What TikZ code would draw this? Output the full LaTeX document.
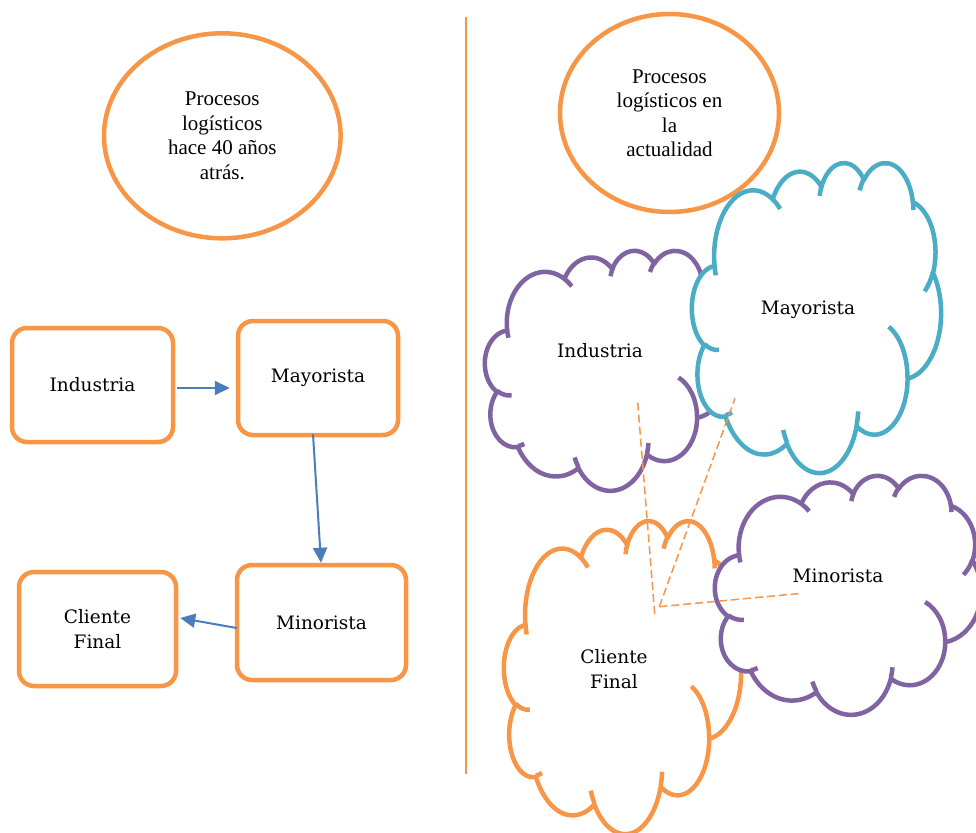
\documentclass[tikz,border=0pt]{standalone}
\usepackage{fontspec}
\setmainfont{DejaVu Serif}
\newfontfamily\timesf{Liberation Serif}
\usetikzlibrary{arrows.meta,shapes.geometric}
\definecolor{orng}{HTML}{F79646}
\definecolor{purp}{HTML}{8064A2}
\definecolor{tealc}{HTML}{4BACC6}
\definecolor{arrblue}{HTML}{4A7EBB}
% OOXML-style arc: visual start angle / sweep converted to parametric angles
\newcommand\oa[4]{arc[x radius=#1, y radius=#2, start angle={vt(#3,#1,#2)}, delta angle={dd(#3,#4,#1,#2)}]}
\newcommand\msocloud[5]{%
 \begin{scope}[shift={(#1,#2)}, x=#3pt, y=-#4pt]
  \filldraw[cloudline, draw=#5, fill=white] (3.9,14.37)
   \oa{6.753}{9.19}{-190.4875}{123.7805}
   \oa{5.333}{7.267}{-144.1024}{89.9452}
   \oa{4.365}{5.945}{-145.8079}{99.7230}
   \oa{4.857}{6.595}{-130.9861}{117.2417}
   \oa{5.333}{7.273}{-78.7089}{109.0269}
   \oa{6.775}{9.22}{-46.2673}{130.2690}
   \oa{5.785}{7.867}{0.6250}{114.0333}
   \oa{6.752}{9.215}{22.4516}{115.1726}
   \oa{7.72}{10.543}{66.2426}{75.7110}
   \oa{4.36}{5.918}{-274.9421}{146.7356}
   \oa{4.345}{5.945}{-246.8285}{152.5189}
   -- cycle;
  \draw[cloudline, draw=#5]
   (4.693,26.177) \oa{4.345}{5.945}{86.7420}{26.4295}
   (6.928,34.899) \oa{4.36}{5.918}{73.6105}{11.4475}
   (16.478,39.09) \oa{6.752}{9.215}{137.6242}{14.0811}
   (28.827,34.751) \oa{6.752}{9.215}{6.4533}{15.9984}
   (34.129,22.954) \oa{5.785}{7.867}{-70.2924}{70.9174}
   (41.798,15.354) \oa{5.333}{7.273}{30.3180}{27.7515}
   (38.324,5.426) \oa{4.857}{6.595}{-13.7443}{14.8589}
   (29.078,3.952) \oa{4.857}{6.595}{-149.1815}{18.1954}
   (22.141,4.72) \oa{4.365}{5.945}{-163.4943}{17.6864}
   (14.0,5.192) \oa{6.753}{9.19}{-66.7070}{12.3194}
   (4.127,15.789) \oa{6.753}{9.19}{157.65}{11.86};
 \end{scope}}

\begin{document}
\begin{tikzpicture}[x=1pt,y=-1pt,
  declare function={
    vt(\a,\w,\h)=atan2(\w*sin(\a),\h*cos(\a));
    dd(\a,\s,\w,\h)=(vt(\a+\s,\w,\h)-vt(\a,\w,\h))+360*round((\s-(vt(\a+\s,\w,\h)-vt(\a,\w,\h)))/360);
  },
  cloudline/.style={line width=4.5pt, line join=round},
  obox/.style={draw=orng, line width=4.5pt, rounded corners=15pt, inner sep=0pt,
    align=center, font=\fontsize{18.5}{25}\selectfont},
  oell/.style={ellipse, draw=orng, line width=4.5pt, inner sep=0pt, align=center,
    font=\timesf\fontsize{21}{24.5}\selectfont},
  ctext/.style={inner sep=0pt, align=center, font=\fontsize{18.5}{25}\selectfont},
  arr/.style={draw=arrblue, line width=2pt, -{Triangle[length=15pt,width=14pt]}},
  dashconn/.style={draw=orng, line width=1.5pt, dash pattern=on 8pt off 4pt},
  divline/.style={draw=orng, line width=1.7pt}]
\useasboundingbox (0,0) rectangle (976,832);
\clip (0,0) rectangle (976,832);
\fill[white] (0,0) rectangle (976,832);

% header ellipses
\node[oell, minimum width=236.6pt, minimum height=205pt] (e1) at (222.3,135.8)
  {Procesos\\logísticos\\hace 40 años\\atrás.};
\node[oell, minimum width=219pt, minimum height=198pt] (e2) at (669.5,113)
  {Procesos\\logísticos en\\la\\actualidad};

% divider
\coordinate (dtop) at (466,17);
\coordinate (dbot) at (466,774);
\draw[divline] (dtop) -- (dbot);

% left: linear chain
\node[obox, minimum width=161pt, minimum height=114pt] (ind) at (92.5,385) {Industria};
\node[obox, minimum width=160pt, minimum height=114pt] (may) at (318,378) {Mayorista};
\node[obox, minimum width=169pt, minimum height=115pt] (min) at (321.5,622.5) {Minorista};
\node[obox, minimum width=157pt, minimum height=114pt] (cli) at (97.5,629) {Cliente\\Final};

\draw[arr] ([shift={(2,3)}]ind.east) -- ([shift={(-6,10)}]may.west);
\draw[arr] ([shift={(-5,-3)}]may.south) -- ([shift={(-0.5,0)}]min.north);
\draw[arr] ([shift={(2,5.5)}]min.west) -- ([shift={(2,-11)}]cli.east);

% right: clouds
\msocloud{485}{250}{5.6713}{5.5556}{purp}
\msocloud{692}{162}{5.7639}{7.1759}{tealc}
\msocloud{504}{520}{5.4861}{7.2454}{orng}
\msocloud{715}{475}{6.1574}{5.5324}{purp}

\node[ctext] (cind) at (600,351) {Industria};
\node[ctext] (cmay) at (808,310) {Mayorista};
\node[ctext] (cmin) at (838,576) {Minorista};
\node[ctext] (ccli) at (614,669) {Cliente\\Final};

% dashed connectors
\coordinate (hub) at (659.3,606.7);
\coordinate (dA1) at (637.7,402.7);
\coordinate (dA2) at (655,617.3);
\coordinate (dB) at (735,398.3);
\coordinate (dC) at (801.7,593.3);
\draw[dashconn] (dA1) -- (dA2);
\draw[dashconn] (hub) -- (dB);
\draw[dashconn] (hub) -- (dC);
\end{tikzpicture}
\end{document}
